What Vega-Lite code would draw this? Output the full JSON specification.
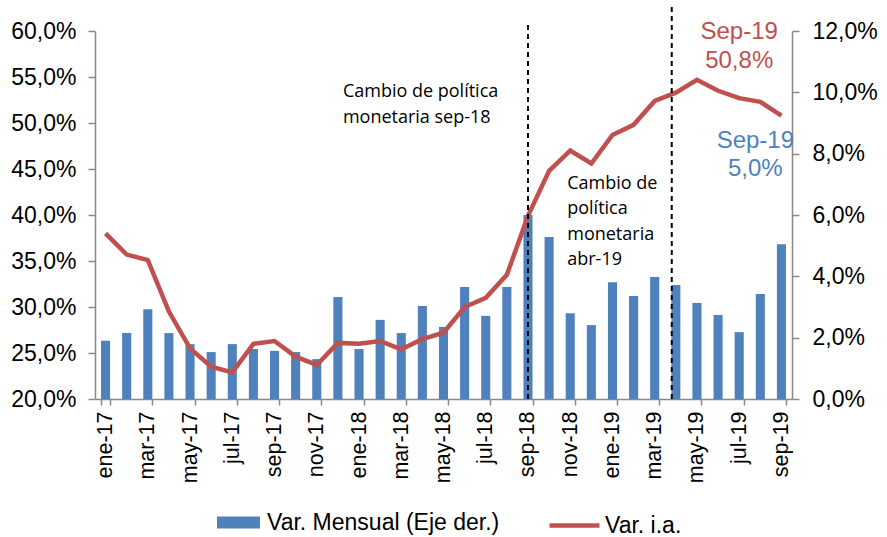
{
  "$schema": "https://vega.github.io/schema/vega-lite/v6.json",
  "width": 697,
  "height": 368,
  "autosize": {"type": "none"},
  "padding": {"left": 95, "top": 31, "right": 95, "bottom": 138},
  "background": "white",
  "config": {
    "view": {"stroke": null},
    "font": "Liberation Sans",
    "axis": {
      "domainColor": "#898989",
      "domainWidth": 1.5,
      "tickColor": "#898989",
      "tickWidth": 1.5,
      "tickSize": 7,
      "labelFont": "Liberation Sans",
      "labelFontSize": 23,
      "labelColor": "#000000",
      "grid": false
    },
    "legend": {
      "labelFont": "Liberation Sans",
      "labelFontSize": 23,
      "labelColor": "#000000",
      "labelLimit": 0,
      "padding": 0
    }
  },
  "datasets": {
    "serie": [
      {"mes": "ene-17", "mensual": 1.9, "ia": 38.0},
      {"mes": "feb-17", "mensual": 2.15, "ia": 35.7},
      {"mes": "mar-17", "mensual": 2.93, "ia": 35.1},
      {"mes": "abr-17", "mensual": 2.15, "ia": 29.5},
      {"mes": "may-17", "mensual": 1.79, "ia": 25.5},
      {"mes": "jun-17", "mensual": 1.53, "ia": 23.5},
      {"mes": "jul-17", "mensual": 1.79, "ia": 22.9},
      {"mes": "ago-17", "mensual": 1.63, "ia": 26.0},
      {"mes": "sep-17", "mensual": 1.57, "ia": 26.3},
      {"mes": "oct-17", "mensual": 1.53, "ia": 24.6},
      {"mes": "nov-17", "mensual": 1.3, "ia": 23.7},
      {"mes": "dic-17", "mensual": 3.33, "ia": 26.1},
      {"mes": "ene-18", "mensual": 1.63, "ia": 26.0},
      {"mes": "feb-18", "mensual": 2.58, "ia": 26.3},
      {"mes": "mar-18", "mensual": 2.15, "ia": 25.4},
      {"mes": "abr-18", "mensual": 3.03, "ia": 26.5},
      {"mes": "may-18", "mensual": 2.35, "ia": 27.2},
      {"mes": "jun-18", "mensual": 3.65, "ia": 30.0},
      {"mes": "jul-18", "mensual": 2.71, "ia": 31.0},
      {"mes": "ago-18", "mensual": 3.65, "ia": 33.5},
      {"mes": "sep-18", "mensual": 6.0, "ia": 39.9},
      {"mes": "oct-18", "mensual": 5.28, "ia": 44.8},
      {"mes": "nov-18", "mensual": 2.8, "ia": 47.0},
      {"mes": "dic-18", "mensual": 2.41, "ia": 45.6},
      {"mes": "ene-19", "mensual": 3.81, "ia": 48.7},
      {"mes": "feb-19", "mensual": 3.36, "ia": 49.8},
      {"mes": "mar-19", "mensual": 3.98, "ia": 52.4},
      {"mes": "abr-19", "mensual": 3.72, "ia": 53.3},
      {"mes": "may-19", "mensual": 3.13, "ia": 54.7},
      {"mes": "jun-19", "mensual": 2.74, "ia": 53.5},
      {"mes": "jul-19", "mensual": 2.18, "ia": 52.7},
      {"mes": "ago-19", "mensual": 3.42, "ia": 52.3},
      {"mes": "sep-19", "mensual": 5.05, "ia": 50.8}
    ]
  },
  "layer": [
    {
      "layer": [
        {
          "data": {"name": "serie"},
          "mark": {"type": "bar", "color": "#4F81BD"},
          "encoding": {
            "x": {
              "field": "mes", "type": "ordinal",
              "scale": {"domain": ["ene-17","feb-17","mar-17","abr-17","may-17","jun-17","jul-17","ago-17","sep-17","oct-17","nov-17","dic-17","ene-18","feb-18","mar-18","abr-18","may-18","jun-18","jul-18","ago-18","sep-18","oct-18","nov-18","dic-18","ene-19","feb-19","mar-19","abr-19","may-19","jun-19","jul-19","ago-19","sep-19"], "paddingInner": 0.57, "paddingOuter": 0.285},
              "axis": {
                "title": null,
                "values": ["ene-17","mar-17","may-17","jul-17","sep-17","nov-17","ene-18","mar-18","may-18","jul-18","sep-18","nov-18","ene-19","mar-19","may-19","jul-19","sep-19"],
                "tickBand": "extent",
                "labelAngle": 270,
                "labelFontSize": 21.5,
                "labelPadding": 6,
                "tickSize": 6
              }
            },
            "y": {
              "field": "mensual", "type": "quantitative",
              "scale": {"domain": [0, 12], "nice": false},
              "axis": {
                "orient": "right", "title": null,
                "values": [0, 2, 4, 6, 8, 10, 12],
                "labelExpr": "replace(format(datum.value, '.1f'), '.', ',') + '%'",
                "labelPadding": 13
              }
            },
            "fill": {
              "datum": "Var. Mensual (Eje der.)", "type": "nominal",
              "scale": {"range": ["#4F81BD"]},
              "legend": {
                "orient": "none", "legendX": 122, "legendY": 470, "title": null,
                "symbolType": "M-1,-0.28H1V0.28H-1Z", "symbolSize": 1849,
                "symbolStrokeWidth": 0, "labelOffset": 7
              }
            }
          }
        },
        {
          "data": {"values": [{"mes": "ago-19", "pos": 8.4, "texto": "Sep-19\n5,0%"}]},
          "mark": {"type": "text", "color": "#4F81BD", "font": "Liberation Sans", "fontSize": 24, "align": "center", "baseline": "middle", "lineBreak": "\n", "lineHeight": 28, "dx": -5},
          "encoding": {
            "x": {"field": "mes", "type": "ordinal"},
            "y": {"field": "pos", "type": "quantitative"},
            "text": {"field": "texto"}
          }
        }
      ]
    },
    {
      "layer": [
        {
          "data": {"name": "serie"},
          "mark": {"type": "line", "color": "#C0504D", "strokeWidth": 4.5},
          "encoding": {
            "x": {"field": "mes", "type": "ordinal"},
            "y": {
              "field": "ia", "type": "quantitative",
              "scale": {"domain": [20, 60], "nice": false},
              "axis": {
                "orient": "left", "title": null,
                "values": [20, 25, 30, 35, 40, 45, 50, 55, 60],
                "labelExpr": "replace(format(datum.value, '.1f'), '.', ',') + '%'",
                "labelPadding": 12
              }
            },
            "stroke": {
              "datum": "Var. i.a.", "type": "nominal",
              "scale": {"range": ["#C0504D"]},
              "legend": {
                "orient": "none", "legendX": 452, "legendY": 467, "title": null,
                "symbolType": "stroke", "symbolSize": 2500,
                "symbolStrokeWidth": 4.5, "labelOffset": 3
              }
            }
          }
        },
        {
          "data": {"values": [{"mes": "sep-18", "desde": 20, "hasta": 61.0}]},
          "mark": {"type": "rule", "color": "#000000", "strokeWidth": 2, "strokeDash": [5, 4]},
          "encoding": {
            "x": {"field": "mes", "type": "ordinal", "bandPosition": 0.5},
            "y": {"field": "desde", "type": "quantitative"},
            "y2": {"field": "hasta"}
          }
        },
        {
          "data": {"values": [{"mes": "abr-19", "desde": 20, "hasta": 62.8}]},
          "mark": {"type": "rule", "color": "#000000", "strokeWidth": 2, "strokeDash": [5, 4]},
          "encoding": {
            "x": {"field": "mes", "type": "ordinal", "bandPosition": 0.05},
            "y": {"field": "desde", "type": "quantitative"},
            "y2": {"field": "hasta"}
          }
        },
        {
          "data": {"values": [
            {"mes": "dic-17", "pos": 53.37, "texto": "Cambio de política\nmonetaria sep-18"}
          ]},
          "mark": {"type": "text", "color": "#000000", "font": "Open Sans", "fontSize": 18, "align": "left", "baseline": "middle", "lineBreak": "\n", "lineHeight": 26, "dx": 5},
          "encoding": {
            "x": {"field": "mes", "type": "ordinal"},
            "y": {"field": "pos", "type": "quantitative"},
            "text": {"field": "texto"}
          }
        },
        {
          "data": {"values": [
            {"mes": "nov-18", "pos": 43.42, "texto": "Cambio de\npolítica\nmonetaria\nabr-19"}
          ]},
          "mark": {"type": "text", "color": "#000000", "font": "Open Sans", "fontSize": 18, "align": "left", "baseline": "middle", "lineBreak": "\n", "lineHeight": 25.5, "dx": -3},
          "encoding": {
            "x": {"field": "mes", "type": "ordinal"},
            "y": {"field": "pos", "type": "quantitative"},
            "text": {"field": "texto"}
          }
        },
        {
          "data": {"values": [{"mes": "jul-19", "pos": 59.84, "texto": "Sep-19\n50,8%"}]},
          "mark": {"type": "text", "color": "#C0504D", "font": "Liberation Sans", "fontSize": 24, "align": "center", "baseline": "middle", "lineBreak": "\n", "lineHeight": 29},
          "encoding": {
            "x": {"field": "mes", "type": "ordinal"},
            "y": {"field": "pos", "type": "quantitative"},
            "text": {"field": "texto"}
          }
        }
      ]
    }
  ],
  "resolve": {"scale": {"y": "independent"}}
}
